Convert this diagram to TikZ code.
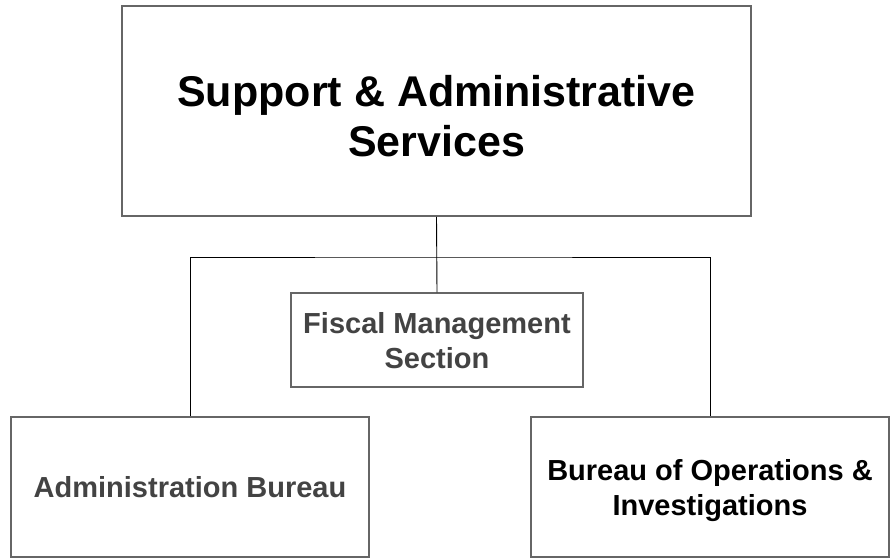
\documentclass[tikz,border=0pt]{standalone}
\usepackage{fontspec}
\setmainfont{Liberation Sans}
\definecolor{boxgray}{HTML}{666666}
\definecolor{textgray}{HTML}{434343}

\begin{document}
\begin{tikzpicture}[x=1pt,y=-1pt,
  unit/.style={rectangle,draw=boxgray,line width=1.5pt,fill=white,align=center,inner sep=0pt,text depth=0pt,font=\bfseries\fontsize{29}{35}\selectfont},
  head/.style={unit,text height=90pt,font=\bfseries\fontsize{43}{50}\selectfont},
  link/.style={draw=black,line width=0.9pt}
  ]

\useasboundingbox (0,0) rectangle (895,558);

\node[head,minimum width=629pt,minimum height=210pt] (sas) at (436.5,111) {Support \& Administrative\\Services};

\node[unit,text=textgray,minimum width=292pt,minimum height=94pt] (fms) at (437,340) {Fiscal Management\\Section};

\node[unit,text=textgray,minimum width=358pt,minimum height=140pt] (adm) at (190,487) {Administration Bureau};
\node[unit,minimum width=358pt,minimum height=140pt] (boi) at (710,487) {Bureau of Operations \&\\Investigations};

% connectors
\coordinate (split) at (437,257);

\draw[link] (sas.south) -- (fms.north);
\draw[link] (adm.north) |- (split) -| (boi.north);

\end{tikzpicture}
\end{document}
